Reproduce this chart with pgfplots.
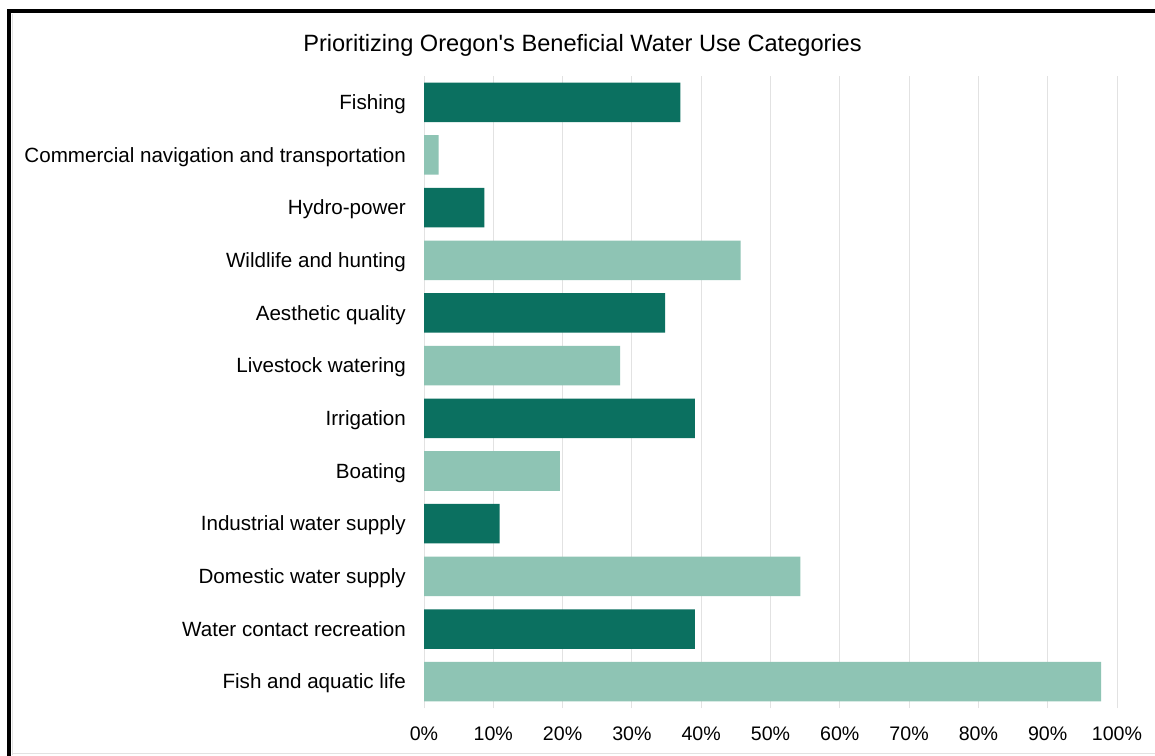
\documentclass[border=0pt]{standalone}
\usepackage{fontspec}
\setmainfont{Liberation Sans}
\usepackage{pgfplots}
\pgfplotsset{compat=1.18}
\definecolor{darkg}{RGB}{11,112,96}
\definecolor{lightg}{RGB}{142,196,180}
\definecolor{gridc}{RGB}{226,226,226}
\begin{document}
\begin{tikzpicture}
\clip (0,0) rectangle (1155pt,755pt);
\fill[white] (0,0) rectangle (1155pt,755pt);
\draw[gridc, line width=1pt] (12.5pt,0pt) -- (12.5pt,741pt);
\draw[gridc, line width=1pt] (12pt,1.5pt) -- (1160pt,1.5pt);
\draw[black, line width=4pt] (9pt,-10pt) -- (9pt,744pt) -- (1170pt,744pt);
\node[anchor=base, inner sep=0pt, font=\fontsize{23.6}{28}\selectfont] at (582.5pt,703.5pt) {Prioritizing Oregon\textquotesingle s Beneficial Water Use Categories};
\begin{axis}[
  at={(424pt,47pt)}, anchor=south west,
  scale only axis, width=693pt, height=632pt,
  xmin=0, xmax=100, ymin=-0.5, ymax=11.5,
  xtick={0,10,...,100},
  xticklabel={\pgfmathprintnumber{\tick}\%},
  /pgf/number format/assume math mode=true,
  xticklabel style={anchor=base, inner sep=0pt, yshift=-32pt, font=\fontsize{19.6}{23}\selectfont},
  ytick={0,...,11},
  yticklabels={Fish and aquatic life, Water contact recreation, Domestic water supply, Industrial water supply, Boating, Irrigation, Livestock watering, Aesthetic quality, Wildlife and hunting, Hydro-power, Commercial navigation and transportation, Fishing},
  yticklabel style={anchor=base east, inner sep=0pt, xshift=-18pt, yshift=-7.3pt, font=\fontsize{20.6}{24}\selectfont},
  major tick length=0pt,
  axis line style={draw=none},
  xmajorgrids, ymajorgrids=false,
  grid style={gridc, line width=1pt},
  xbar, bar width=39.5pt, bar shift=0pt,
]
\addplot[fill=darkg, draw=none] coordinates {(39.1,1) (10.9,3) (39.1,5) (34.8,7) (8.7,9) (37.0,11)};
\addplot[fill=lightg, draw=none] coordinates {(97.7,0) (54.3,2) (19.6,4) (28.3,6) (45.7,8) (2.1,10)};
\end{axis}
\end{tikzpicture}
\end{document}
